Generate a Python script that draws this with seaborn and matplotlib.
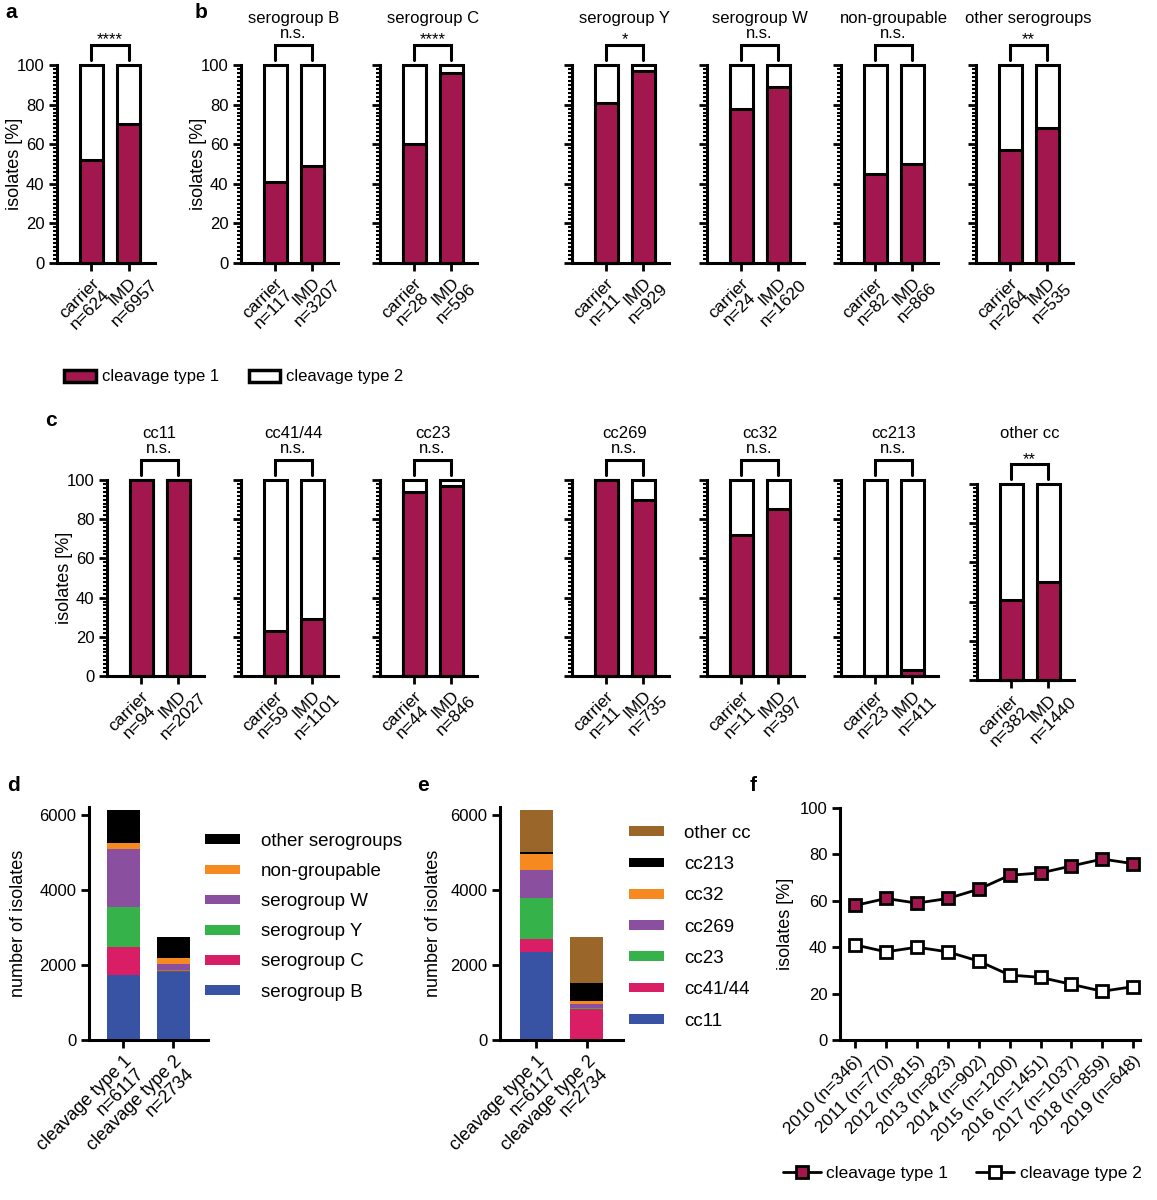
import numpy as np
import pandas as pd
import matplotlib
matplotlib.use('Agg')
import matplotlib.pyplot as plt
from matplotlib.patches import Patch
from matplotlib.lines import Line2D
from matplotlib.ticker import MultipleLocator
from matplotlib.textpath import TextPath
from matplotlib.font_manager import FontProperties
import seaborn as sns

# ---- data ----
all_n = [624, 6957]
all_type1 = [52, 70]
all_star = '****'

sero_groups = ['serogroup B', 'serogroup C', 'serogroup Y', 'serogroup W', 'non-groupable', 'other serogroups']
sero_stars = ['n.s.', '****', '*', 'n.s.', 'n.s.', '**']
sero_n_carrier = [117, 28, 11, 24, 82, 264]
sero_n_imd = [3207, 596, 929, 1620, 866, 535]
sero_type1_carrier = [41, 60, 81, 78, 45, 57]
sero_type1_imd = [49, 96, 97, 89, 50, 68]

cc_groups = ['cc11', 'cc41/44', 'cc23', 'cc269', 'cc32', 'cc213', 'other cc']
cc_stars = ['n.s.', 'n.s.', 'n.s.', 'n.s.', 'n.s.', 'n.s.', '**']
cc_n_carrier = [94, 59, 44, 11, 11, 23, 382]
cc_n_imd = [2027, 1101, 846, 735, 397, 411, 1440]
cc_type1_carrier = [100, 23, 94, 100, 72, 0, 41]
cc_type1_imd = [100, 29, 97, 90, 85, 3, 50]

cleavage_names = ['cleavage type 1', 'cleavage type 2']
cleavage_n = [6117, 2734]
sero_stack = ['serogroup B', 'serogroup C', 'serogroup Y', 'serogroup W', 'non-groupable', 'other serogroups']
sero_stack_t1 = [1723, 759, 1054, 1536, 161, 884]
sero_stack_t2 = [1810, 20, 30, 170, 160, 544]
cc_stack = ['cc11', 'cc41/44', 'cc23', 'cc269', 'cc32', 'cc213', 'other cc']
cc_stack_t1 = [2348, 330, 1098, 741, 437, 45, 1118]
cc_stack_t2 = [20, 810, 30, 110, 70, 490, 1204]

years = ['2010 (n=346)', '2011 (n=770)', '2012 (n=815)', '2013 (n=823)', '2014 (n=902)',
         '2015 (n=1200)', '2016 (n=1451)', '2017 (n=1037)', '2018 (n=859)', '2019 (n=648)']
year_type1 = [58, 61, 59, 61, 65, 71, 72, 75, 78, 76]
year_type2 = [41, 38, 40, 38, 34, 28, 27, 24, 21, 23]

RED = '#A3174F'
sero_colors = ['#3953A4', '#D91E66', '#35B34A', '#8B4F9F', '#F6891F', '#000000']
cc_colors = ['#3953A4', '#D91E66', '#35B34A', '#8B4F9F', '#F6891F', '#000000', '#9A6629']

sns.set_style('ticks')
plt.rcParams['font.family'] = ['Liberation Sans', 'DejaVu Sans']
plt.rcParams['font.size'] = 12
for k in ['text.color', 'axes.labelcolor', 'xtick.color', 'ytick.color', 'axes.edgecolor']:
    plt.rcParams[k] = 'black'
LW = 2.2

W, H = 1157, 1200
fig = plt.figure(figsize=(W / 100, H / 100), dpi=100)


def box(x0, y0, x1, y1):
    return fig.add_axes([x0 / W, 1 - y1 / H, (x1 - x0) / W, (y1 - y0) / H])


def text_w(s, size):
    fp = FontProperties(family=['Liberation Sans', 'DejaVu Sans'], size=size)
    return TextPath((0, 0), s, prop=fp).get_extents().width


def rot_labels(ax, first, second, align, size):
    # two-line 45 degree labels, first line ending at the tick
    ax.set_xticks(range(len(first)))
    ax.set_xticklabels([])
    for i, (a, b) in enumerate(zip(first, second)):
        w1, w2 = text_w(a, size), text_w(b, size)
        s = (max(w1, w2) - w1) / 2 if align == 'center' else 0
        ax.annotate(a + '\n' + b, xy=(i, 0), xycoords=('data', 'axes fraction'),
                    xytext=(0.707 * s, 0.707 * s - 9), textcoords='offset points',
                    rotation=45, rotation_mode='anchor', ha='right', va='top',
                    multialignment=align, linespacing=1.05, fontsize=size, annotation_clip=False)


def style_axes(ax):
    for s in ['top', 'right']:
        ax.spines[s].set_visible(False)
    for s in ['left', 'bottom']:
        ax.spines[s].set_linewidth(LW)
    ax.tick_params(axis='both', which='major', length=6, width=2, labelsize=12, pad=3)
    ax.tick_params(axis='y', which='minor', length=3, width=1.5)


def pct_panel(ax, t1, ns, title, star, ylabel, title_dy=0):
    df = pd.DataFrame({'group': ['carrier', 'IMD'], 'type1': t1})
    df['total'] = df['type1'] + (100 - df['type1'])
    sns.barplot(data=df, x='group', y='total', color='white', edgecolor='black',
                linewidth=LW, width=0.62, saturation=1, ax=ax)
    sns.barplot(data=df, x='group', y='type1', color=RED, edgecolor='black',
                linewidth=LW, width=0.62, saturation=1, ax=ax)
    for p in ax.patches:
        p.set_clip_on(False)
    style_axes(ax)
    ax.set_xlim(-0.92, 1.7)
    ax.set_ylim(0, 100)
    ax.set_yticks(range(0, 101, 20))
    ax.yaxis.set_minor_locator(MultipleLocator(2))
    rot_labels(ax, ['carrier', 'IMD'], [f'n={ns[0]}', f'n={ns[1]}'], 'center', 12.5)
    ax.set_xlabel('')
    if ylabel:
        ax.set_ylabel('isolates [%]', fontsize=13)
        ax.yaxis.set_label_coords(-0.35, 0.5)
    else:
        ax.set_ylabel('')
        ax.tick_params(axis='y', labelleft=False)
    ax.plot([0, 0, 1, 1], [102.5, 110, 110, 102.5], color='black', lw=LW, clip_on=False,
            solid_joinstyle='miter')
    if 'n.s.' in star:
        ax.text(0.5, 113.6, star, ha='center', va='baseline', fontsize=12)
    else:
        ax.text(0.5, 110.3, star, ha='center', va='baseline', fontsize=12)
    if title:
        ax.text(0.5, 121.2 + title_dy, title, ha='center', va='baseline', fontsize=12)


# ---- panel a ----
ax = box(57, 65, 155, 263)
pct_panel(ax, all_type1, all_n, None, all_star, True)

# ---- panel b ----
b_x = [241, 380, 572, 707, 841, 976]
for i, g in enumerate(sero_groups):
    ax = box(b_x[i], 65, b_x[i] + 97, 263)
    pct_panel(ax, [sero_type1_carrier[i], sero_type1_imd[i]],
              [sero_n_carrier[i], sero_n_imd[i]], g, sero_stars[i], i == 0)

fig.legend(handles=[Patch(facecolor=RED, edgecolor='black', linewidth=2.5),
                    Patch(facecolor='white', edgecolor='black', linewidth=2.5)],
           labels=['cleavage type 1', 'cleavage type 2'], loc='center left',
           bbox_to_anchor=(64 / W, 1 - 377 / H), ncol=2, frameon=False, fontsize=12,
           handlelength=1.9, handleheight=0.75, handletextpad=0.35, columnspacing=1.8,
           borderpad=0, borderaxespad=0)

# ---- panel c ----
c_x = [107, 241, 380, 572, 707, 841, 977]
for i, g in enumerate(cc_groups):
    dy = 4 if g == 'other cc' else 0
    ax = box(c_x[i], 480 + dy, c_x[i] + 97, 676 + dy)
    pct_panel(ax, [cc_type1_carrier[i], cc_type1_imd[i]],
              [cc_n_carrier[i], cc_n_imd[i]], g, cc_stars[i], i == 0, title_dy=dy / 1.96)


# ---- panels d and e ----
def stack_panel(ax, labels, colors, t1, t2, width, xlim, leg_x, leg_y, spacing, tpad):
    df = pd.DataFrame({'group': labels, 'type 1': t1, 'type 2': t2})
    cum = df[['type 1', 'type 2']].cumsum()
    for i in reversed(range(len(labels))):
        sns.barplot(x=cleavage_names, y=cum.iloc[i].values, color=colors[i], saturation=1,
                    width=width, linewidth=0, ax=ax)
    style_axes(ax)
    ax.set_xlim(*xlim)
    ax.set_ylim(0, 6200)
    ax.set_yticks([0, 2000, 4000, 6000])
    rot_labels(ax, cleavage_names, [f'n={n}' for n in cleavage_n], 'right', 13)
    ax.set_xlabel('')
    ax.set_ylabel('number of isolates', fontsize=13)
    handles = [Patch(facecolor=c, edgecolor='none') for c in colors][::-1]
    ax.legend(handles, labels[::-1], loc='upper left', bbox_to_anchor=(leg_x / W, 1 - leg_y / H),
              bbox_transform=fig.transFigure, frameon=False, fontsize=13.5, borderpad=0,
              borderaxespad=0, handlelength=1.87, handleheight=0.43, handletextpad=tpad,
              labelspacing=spacing)


ax = box(89, 807, 208, 1040)
stack_panel(ax, sero_stack, sero_colors, sero_stack_t1, sero_stack_t2, 0.66, (-0.68, 1.7),
            205, 833, 0.7, 1.12)
ax.yaxis.set_label_coords(-0.52, 0.5)

ax = box(500, 807, 623, 1040)
stack_panel(ax, cc_stack, cc_colors, cc_stack_t1, cc_stack_t2, 0.65, (-0.71, 1.71),
            629, 825, 0.76, 1.07)
ax.yaxis.set_label_coords(-0.475, 0.5)

# ---- panel f ----
ax = box(840, 808, 1140, 1040)
df_f = pd.DataFrame({'year': years, 'type1': year_type1, 'type2': year_type2})
for col, fc in [('type1', RED), ('type2', 'white')]:
    sns.lineplot(data=df_f, x='year', y=col, color='black', lw=2, marker='s', markersize=9,
                 markeredgecolor='black', markeredgewidth=2, sort=False, ax=ax)
    ax.lines[-1].set_markerfacecolor(fc)
    ax.lines[-1].set_clip_on(False)
style_axes(ax)
ax.set_xlim(-0.49, 9.22)
ax.set_ylim(0, 100)
ax.set_yticks(range(0, 101, 20))
ax.set_xticks(range(len(years)))
ax.set_xticklabels(years, rotation=45, ha='right', va='top', rotation_mode='anchor', fontsize=12.5)
ax.set_xlabel('')
ax.set_ylabel('isolates [%]', fontsize=13)
ax.yaxis.set_label_coords(-0.155, 0.5)
f_handles = [Line2D([], [], color='black', lw=2, marker='s', markersize=9, markerfacecolor=RED,
                    markeredgecolor='black', markeredgewidth=2),
             Line2D([], [], color='black', lw=2, marker='s', markersize=9, markerfacecolor='white',
                    markeredgecolor='black', markeredgewidth=2)]
fig.legend(f_handles, ['cleavage type 1', 'cleavage type 2'], loc='center left',
           bbox_to_anchor=(783 / W, 1 - 1173 / H), ncol=2, frameon=False, fontsize=12.5,
           handlelength=2.2, handletextpad=0.3, columnspacing=1.6, borderpad=0, borderaxespad=0)

# ---- panel letters ----
for lab, x, y in [('a', 5, 3), ('b', 195, 3), ('c', 45, 411), ('d', 7, 776), ('e', 417, 776), ('f', 750, 776)]:
    fig.text(x / W, 1 - y / H, lab, fontsize=15, fontweight='bold', ha='left', va='top')

fig.savefig('out.png', dpi=100)
